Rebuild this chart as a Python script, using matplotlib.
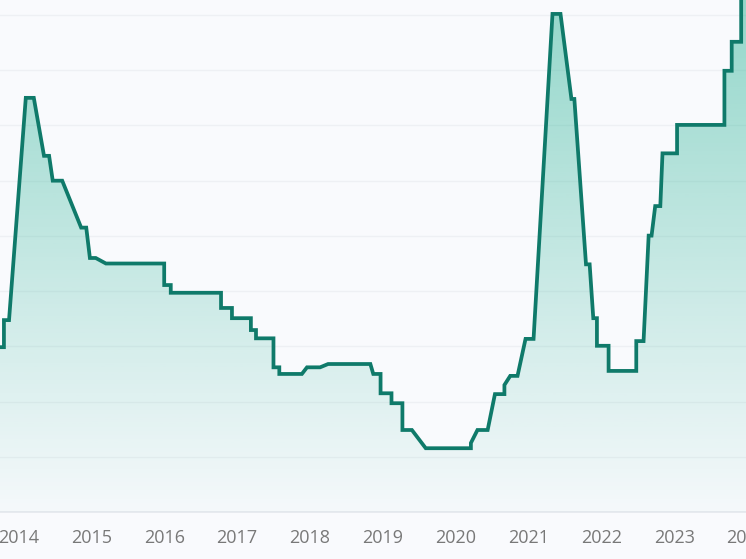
import numpy as np
import matplotlib
matplotlib.use("Agg")
import matplotlib.pyplot as plt
from matplotlib.colors import to_rgb

# points of the line (fractional year, value)
dates = [2013.68, 2013.80, 2013.80, 2013.87, 2014.10, 2014.21, 2014.35, 2014.42,
         2014.47, 2014.60, 2014.86, 2014.93, 2014.98, 2015.06, 2015.20, 2016.00,
         2016.00, 2016.09, 2016.09, 2016.78, 2016.78, 2016.93, 2016.93, 2017.19,
         2017.19, 2017.26, 2017.26, 2017.50, 2017.50, 2017.58, 2017.58, 2017.89,
         2017.96, 2018.14, 2018.25, 2018.83, 2018.87, 2018.97, 2018.97, 2019.12,
         2019.12, 2019.27, 2019.27, 2019.40, 2019.59, 2020.21, 2020.21, 2020.30,
         2020.44, 2020.54, 2020.67, 2020.67, 2020.75, 2020.85, 2020.96, 2021.07,
         2021.33, 2021.44, 2021.59, 2021.63, 2021.79, 2021.84, 2021.89, 2021.94,
         2021.94, 2022.10, 2022.10, 2022.48, 2022.48, 2022.58, 2022.65, 2022.69,
         2022.74, 2022.81, 2022.84, 2023.04, 2023.04, 2023.69, 2023.69, 2023.79,
         2023.79, 2023.92, 2023.92, 2024.73]
rate = [7.97, 7.97, 8.95, 8.95, 17.0, 17.0, 14.9, 14.9,
        14.0, 14.0, 12.3, 12.3, 11.2, 11.2, 11.0, 11.0,
        10.22, 10.22, 9.94, 9.94, 9.39, 9.39, 9.02, 9.02,
        8.59, 8.59, 8.29, 8.29, 7.24, 7.24, 7.0, 7.0,
        7.24, 7.24, 7.36, 7.36, 7.0, 7.0, 6.3, 6.3,
        5.94, 5.94, 4.97, 4.97, 4.31, 4.31, 4.5, 4.97,
        4.97, 6.27, 6.27, 6.6, 6.93, 6.93, 8.27, 8.27,
        20.04, 20.04, 16.96, 16.96, 10.97, 10.97, 9.02, 9.02,
        8.02, 8.02, 7.11, 7.11, 8.19, 8.19, 12.01, 12.01,
        13.08, 13.08, 14.99, 14.99, 16.02, 16.02, 17.98, 17.98,
        19.03, 19.03, 21.0, 21.0]
years = [2014, 2015, 2016, 2017, 2018, 2019, 2020, 2021, 2022, 2023, 2024]
grid_vals = [4, 6, 8, 10, 12, 14, 16, 18, 20]

bg = "#f9fafd"
line_col = "#0f7a6a"
fill_col = "#2bb396"

fig = plt.figure(figsize=(7.46, 5.59), dpi=100, facecolor=bg)
# the chart is a cropped view, so the axes run past the figure edges
ax = fig.add_axes([-40 / 746, 47 / 559, 826 / 746, 542 / 559])
ax.set_facecolor(bg)

x0, x1 = 2014 + (-40 - 18.5) / 72.85, 2014 + (786 - 18.5) / 72.85
y0, y1 = 2, 2 + 542 / 27.61
ax.set_xlim(x0, x1)
ax.set_ylim(y0, y1)

for g in grid_vals:
    ax.axhline(g, color="#eef0f4", lw=1, zorder=0)
ax.axhline(y0, color="#e4e7ed", lw=1.2, zorder=0, clip_on=False)

# gradient fill under the line
n = 256
alpha = np.linspace(0.02, 0.52, n)[:, None]
rgba = np.zeros((n, 1, 4))
rgba[..., :3] = to_rgb(fill_col)
rgba[..., 3] = alpha
poly = ax.fill_between(dates, rate, y0, color="none", lw=0)
img = ax.imshow(rgba, extent=[x0, x1, y0, y1], origin="lower", aspect="auto", zorder=1)
img.set_clip_path(poly.get_paths()[0], transform=ax.transData)

ax.plot(dates, rate, color=line_col, lw=2.7, solid_joinstyle="miter", zorder=3)

ax.set_xticks(years)
ax.set_xticklabels([str(y) for y in years], fontfamily="Open Sans", fontsize=13, color="#787878")
ax.tick_params(axis="x", length=0, pad=12)
ax.set_yticks([])
for s in ax.spines.values():
    s.set_visible(False)

fig.savefig("out.png", dpi=100, facecolor=bg)
